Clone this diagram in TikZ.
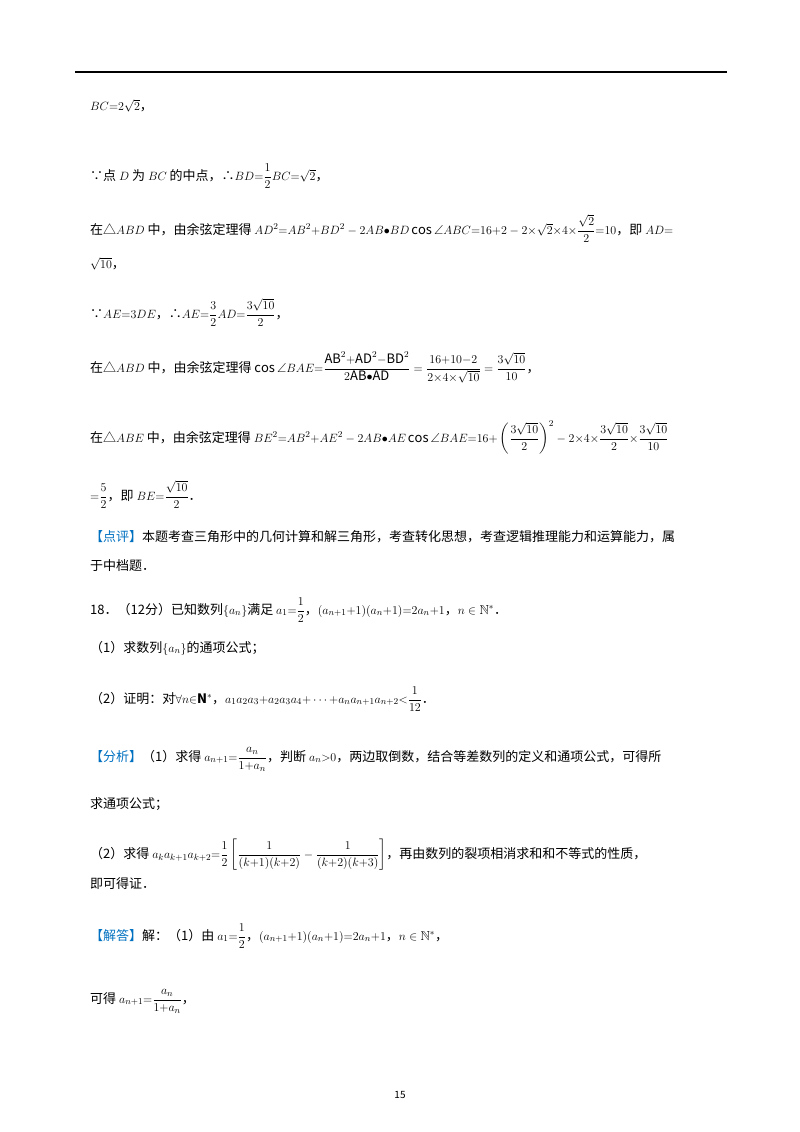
\documentclass[tikz,border=0pt]{standalone}
\usepackage{amsmath,amssymb}
\usepackage{fontspec}
\setmainfont{Noto Sans CJK SC}
\definecolor{cblue}{RGB}{0,112,192}
\begin{document}
\begin{tikzpicture}[x=1pt,y=1pt,every node/.style={anchor=base west,inner sep=0pt,font=\fontsize{13}{15}\selectfont}]
\useasboundingbox (0,0) rectangle (800,-1132);
\draw[line width=1.5pt] (75,-72) -- (727,-72);
\node (l1) at (90,-110) {$BC{=}2\sqrt{2}$，};
\node (l2) at (90,-180) {∵点 $D$ 为 $BC$ 的中点，∴$BD{=}\dfrac{1}{2}BC{=}\sqrt{2}$，};
\node (l3) at (90,-234) {在△$ABD$ 中，由余弦定理得 $AD^2{=}AB^2{+}BD^2-2AB{\bullet}BD\cos\angle ABC{=}16{+}2-2{\times}\sqrt{2}{\times}4{\times}\dfrac{\sqrt{2}}{2}{=}10$，即 $AD{=}$};
\node (l4) at (90,-268) {$\sqrt{10}$，};
\node (l5) at (90,-318) {∵$AE{=}3DE$，∴$AE{=}\dfrac{3}{2}AD{=}\dfrac{3\sqrt{10}}{2}$，};
\node (l6) at (90,-372) {在△$ABD$ 中，由余弦定理得 $\cos\angle BAE{=}\dfrac{\mathrm{AB}^2{+}\mathrm{AD}^2{-}\mathrm{BD}^2}{2\mathrm{AB}{\bullet}\mathrm{AD}}\;{=}\;\dfrac{16{+}10{-}2}{2{\times}4{\times}\sqrt{10}}\;{=}\;\dfrac{3\sqrt{10}}{10}$，};
\node (l7) at (90,-442) {在△$ABE$ 中，由余弦定理得 $BE^2{=}AB^2{+}AE^2-2AB{\bullet}AE\cos\angle BAE{=}16{+}\left(\dfrac{3\sqrt{10}}{2}\right)^2-2{\times}4{\times}\dfrac{3\sqrt{10}}{2}{\times}\dfrac{3\sqrt{10}}{10}$};
\node (l8) at (90,-500) {${=}\dfrac{5}{2}$，即 $BE{=}\dfrac{\sqrt{10}}{2}$．};
\node (l9) at (90,-541) {\textcolor{cblue}{【点评】}本题考查三角形中的几何计算和解三角形，考查转化思想，考查逻辑推理能力和运算能力，属};
\node (l10) at (90,-570) {于中档题．};
\node (l11) at (90,-614) {18．（12分）已知数列$\{a_n\}$满足 $a_1{=}\dfrac{1}{2}$，$(a_{n+1}{+}1)(a_n{+}1){=}2a_n{+}1$，$n\in\mathbb{N}^*$．};
\node (l12) at (90,-652) {（1）求数列$\{a_n\}$的通项公式；};
\node (l13) at (90,-703) {（2）证明：对$\forall n{\in}\mathbf{N}^*$，$a_1a_2a_3{+}a_2a_3a_4{+}\cdots{+}a_na_{n+1}a_{n+2}{<}\dfrac{1}{12}$．};
\node (l14) at (90,-761) {\textcolor{cblue}{【分析】}（1）求得 $a_{n+1}{=}\dfrac{a_n}{1{+}a_n}$，判断 $a_n{>}0$，两边取倒数，结合等差数列的定义和通项公式，可得所};
\node (l15) at (90,-808) {求通项公式；};
\node (l16) at (90,-858) {（2）求得 $a_ka_{k+1}a_{k+2}{=}\dfrac{1}{2}\left[\dfrac{1}{(k{+}1)(k{+}2)}-\dfrac{1}{(k{+}2)(k{+}3)}\right]$，再由数列的裂项相消求和和不等式的性质，};
\node (l17) at (90,-888) {即可得证．};
\node (l18) at (90,-940) {\textcolor{cblue}{【解答】}解：（1）由 $a_1{=}\dfrac{1}{2}$，$(a_{n+1}{+}1)(a_n{+}1){=}2a_n{+}1$，$n\in\mathbb{N}^*$，};
\node (l19) at (90,-1003) {可得 $a_{n+1}{=}\dfrac{a_n}{1{+}a_n}$，};
\node[anchor=base,font=\fontsize{10}{12}\selectfont] (pg) at (400,-1098) {15};
\end{tikzpicture}
\end{document}
